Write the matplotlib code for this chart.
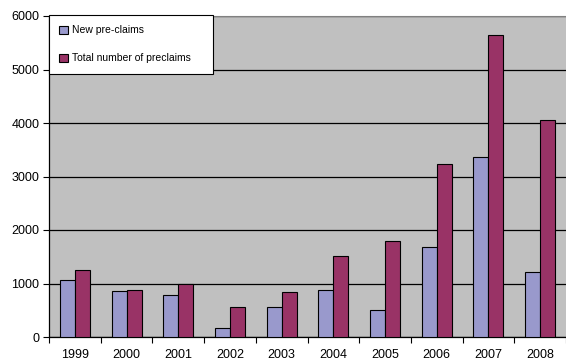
import matplotlib.pyplot as plt
import numpy as np

years = ["1999", "2000", "2001", "2002", "2003", "2004", "2005", "2006", "2007", "2008"]
new_preclaims = [1065, 860, 790, 165, 555, 880, 500, 1680, 3360, 1220]
total_preclaims = [1245, 880, 990, 555, 840, 1520, 1795, 3230, 5650, 4055]

plt.rcParams["font.family"] = ["Liberation Sans", "DejaVu Sans"]

fig = plt.figure(figsize=(5.66, 3.62), dpi=100)
ax = fig.add_axes([49 / 566, 25 / 362, 517 / 566, 321 / 362])
ax.set_facecolor("#C0C0C0")

x = np.arange(len(years))
w = 0.29
ax.bar(x - w / 2, new_preclaims, w, color="#9999CC", edgecolor="black",
       linewidth=0.8, label="New pre-claims", zorder=3)
ax.bar(x + w / 2, total_preclaims, w, color="#993366", edgecolor="black",
       linewidth=0.8, label="Total number of preclaims", zorder=3)

ax.set_xlim(-0.5, len(years) - 0.5)
ax.set_ylim(0, 6000)
ax.set_yticks(range(0, 6001, 1000))
ax.yaxis.grid(True, color="black", linewidth=0.9, zorder=1)
ax.tick_params(axis="y", length=4, labelsize=9, pad=3)

# category boundary ticks, labels at centres
ax.set_xticks(np.arange(-0.5, len(years) - 0.5 + 0.01, 1.0))
ax.set_xticklabels([])
ax.tick_params(axis="x", which="major", length=4, width=0.8)
ax.set_xticks(x, minor=True)
ax.set_xticklabels(years, minor=True, fontsize=9)
ax.tick_params(axis="x", which="minor", length=0, pad=9)

for s in ["left", "bottom"]:
    ax.spines[s].set_color("black")
    ax.spines[s].set_linewidth(0.9)
ax.spines["top"].set_color("#808080")
ax.spines["right"].set_visible(False)

leg = ax.legend(loc="upper left", bbox_to_anchor=(0.0, 0.5, 164 / 517, 0.503),
                mode="expand", fontsize=7.5,
                frameon=True, fancybox=False, edgecolor="black",
                borderpad=1.0, labelspacing=1.7, handlelength=0.8,
                handleheight=0.8, handletextpad=0.4, borderaxespad=0)
leg.get_frame().set_linewidth(0.8)
leg.get_frame().set_alpha(1)

fig.savefig("out.png", dpi=100)
